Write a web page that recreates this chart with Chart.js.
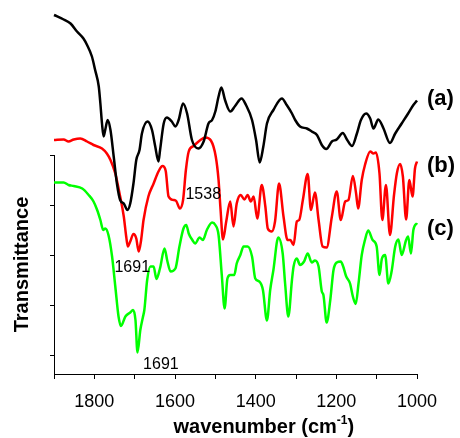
<!DOCTYPE html>
<html>
<head>
<meta charset="utf-8">
<script src="https://cdn.jsdelivr.net/npm/chart.js@4/dist/chart.umd.min.js"></script>
<style>
  html, body { margin: 0; padding: 0; background: #fff; }
  #wrap { width: 460px; height: 438px; }
</style>
</head>
<body>
<div id="wrap"><canvas id="c" width="460" height="438"></canvas></div>
<script>
// ---- data (wavenumber in cm-1, transmittance in arbitrary offset units) ----
const blackWn = [1900,1876,1859,1843,1827,1818,1806,1798,1789,1785,1781,1777,1773,1767,1760,1752,1744,1736,1727,1718,1711,1703,1696,1688,1682,1668,1657,1649,1641,1637,1628,1620,1608,1599,1591,1580,1570,1558,1542,1529,1517,1508,1500,1492,1485,1476,1463,1451,1435,1424,1409,1399,1390,1381,1372,1356,1335,1323,1310,1302,1290,1273,1261,1248,1236,1225,1211,1199,1184,1173,1161,1149,1139,1126,1116,1108,1096,1083,1067,1054,1038,1022,1009,1000];
const blackT = [6.80,6.71,6.63,6.47,6.33,6.20,5.97,5.70,5.37,5.03,4.63,4.37,4.50,4.70,4.50,3.97,3.43,3.10,3.03,2.90,3.03,3.43,3.90,4.10,4.43,4.67,4.50,4.17,3.87,4.10,4.63,4.75,4.67,4.57,4.70,5.03,4.83,4.30,4.13,4.27,4.63,4.70,4.87,5.17,5.35,5.10,4.87,4.98,5.13,5.00,4.70,4.30,3.85,4.17,4.63,4.90,5.13,5.00,4.83,4.70,4.57,4.53,4.47,4.40,4.20,4.12,4.27,4.31,4.44,4.30,4.18,4.43,4.70,4.83,4.73,4.53,4.71,4.53,4.24,4.43,4.63,4.83,5.00,5.09];

const redWn = [1900,1876,1864,1851,1835,1818,1802,1781,1769,1760,1748,1736,1727,1721,1717,1711,1703,1696,1690,1684,1678,1666,1653,1641,1631,1623,1616,1604,1597,1588,1580,1573,1566,1554,1537,1525,1511,1499,1492,1487,1481,1473,1463,1455,1447,1437,1428,1420,1412,1405,1396,1385,1376,1370,1360,1352,1342,1331,1321,1314,1306,1298,1292,1283,1271,1263,1253,1244,1234,1224,1211,1199,1189,1178,1170,1159,1151,1146,1137,1129,1116,1108,1102,1093,1086,1077,1067,1057,1050,1042,1035,1027,1019,1011,1005,1000];
const redT = [4.30,4.31,4.27,4.31,4.33,4.27,4.20,4.13,4.03,3.90,3.63,3.17,2.77,2.37,2.17,2.27,2.42,2.33,2.07,2.30,2.70,3.17,3.43,3.67,3.78,3.68,3.17,3.10,3.08,2.93,3.10,3.70,4.07,4.18,4.30,4.35,4.29,3.97,3.50,2.90,2.31,2.67,3.07,2.57,3.03,3.20,3.11,3.20,3.07,3.17,2.73,3.40,2.97,2.53,2.47,2.67,3.43,2.77,2.30,2.30,2.20,2.67,2.70,3.10,3.62,2.90,3.25,2.70,2.17,2.15,2.77,3.27,2.70,3.07,3.10,3.58,3.23,2.93,3.50,3.80,4.07,4.03,4.05,3.63,2.70,3.40,2.40,3.20,3.63,3.82,3.57,2.71,3.50,3.17,3.73,3.87];

const greenWn = [1900,1876,1864,1851,1830,1814,1802,1793,1785,1778,1773,1765,1756,1748,1740,1734,1723,1711,1704,1698,1693,1686,1680,1676,1669,1661,1653,1646,1637,1626,1619,1611,1599,1589,1579,1572,1566,1557,1550,1539,1531,1521,1508,1500,1492,1484,1477,1470,1463,1453,1447,1438,1430,1420,1409,1401,1391,1382,1372,1364,1356,1344,1333,1327,1319,1310,1306,1298,1290,1280,1271,1261,1253,1244,1236,1232,1224,1215,1207,1199,1189,1183,1176,1166,1159,1152,1145,1137,1129,1121,1110,1100,1093,1087,1079,1071,1063,1054,1046,1038,1027,1022,1015,1009,1000];
const greenT = [3.45,3.45,3.40,3.38,3.33,3.20,3.07,2.90,2.70,2.50,2.53,2.40,1.97,1.37,0.77,0.58,0.77,0.85,0.90,0.70,0.05,0.50,0.74,0.90,1.50,1.77,1.77,1.52,1.74,2.13,1.88,1.67,1.73,2.17,2.53,2.60,2.43,2.30,2.23,2.35,2.30,2.50,2.65,2.60,2.40,1.60,0.93,1.53,1.60,1.60,1.83,2.00,2.17,2.17,1.97,1.53,1.47,1.30,0.69,1.30,1.70,2.35,2.03,1.43,0.77,1.50,1.77,1.93,1.80,1.87,2.03,1.85,1.89,1.77,1.27,1.20,0.65,1.10,1.70,1.85,1.87,1.77,1.58,1.43,1.17,1.02,1.43,2.00,2.30,2.49,2.30,2.17,1.60,1.93,2.00,1.43,1.67,2.17,2.31,2.00,2.30,2.37,2.03,2.50,2.64];

const seriesLabels = ['(a)', '(b)', '(c)'];
const seriesLabelLevel = [5.12, 3.78, 2.52];
const seriesColors = ['#000000', '#ff0000', '#00ff00'];

const annotationText = ['1538', '1691', '1691'];
const annotationWn = [1530, 1706, 1635];
const annotationT = [3.20, 1.74, -0.19];

const xTickValues = [1900,1800,1700,1600,1500,1400,1300,1200,1100,1000];
const xLabelValues = [1800,1600,1400,1200,1000];
const yTickValues = [0,1,2,3,4];

const FONT = '"Liberation Sans", Arial, Helvetica, sans-serif';

function pts(wn, t) {
  const n = Math.min(wn.length, t.length);
  const out = [];
  for (let i = 0; i < n; i++) out.push({x: wn[i], y: t[i]});
  return out;
}

const textPlugin = {
  id: 'texts',
  afterDatasetsDraw(chart) {
    const {ctx, chartArea: ca, scales: {x, y}} = chart;
    ctx.save();
    ctx.fillStyle = '#000';
    // peak annotations
    ctx.font = '16px ' + FONT;
    ctx.textAlign = 'center';
    ctx.textBaseline = 'middle';
    for (let i = 0; i < annotationText.length; i++) {
      ctx.fillText(annotationText[i], x.getPixelForValue(annotationWn[i]), y.getPixelForValue(annotationT[i]));
    }
    // series labels
    ctx.font = 'bold 22px ' + FONT;
    ctx.textAlign = 'left';
    for (let i = 0; i < seriesLabels.length; i++) {
      ctx.fillText(seriesLabels[i], ca.right + 10, y.getPixelForValue(seriesLabelLevel[i]));
    }
    // y title
    ctx.save();
    ctx.translate(ca.left - 32, (ca.top + ca.bottom) / 2);
    ctx.rotate(-Math.PI / 2);
    ctx.font = 'bold 20px ' + FONT;
    ctx.textAlign = 'center';
    ctx.textBaseline = 'middle';
    ctx.fillText('Transmittance', 0, 0);
    ctx.restore();
    // x title with superscript
    const main = 'wavenumber (cm', sup = '-1', close = ')';
    ctx.textAlign = 'left';
    ctx.textBaseline = 'alphabetic';
    ctx.font = 'bold 20px ' + FONT;
    const w1 = ctx.measureText(main).width;
    const w3 = ctx.measureText(close).width;
    ctx.font = 'bold 12px ' + FONT;
    const w2 = ctx.measureText(sup).width;
    const cx = ca.left + (ca.right - ca.left) * 0.578;
    const by = ca.bottom + 59;
    let sx = cx - (w1 + w2 + w3) / 2;
    ctx.font = 'bold 20px ' + FONT;
    ctx.fillText(main, sx, by);
    sx += w1;
    ctx.font = 'bold 12px ' + FONT;
    ctx.fillText(sup, sx, by - 9);
    sx += w2;
    ctx.font = 'bold 20px ' + FONT;
    ctx.fillText(close, sx, by);
    ctx.restore();
  }
};

const mk = (data, color) => ({
  data, borderColor: color, backgroundColor: color, borderWidth: 2.5,
  pointRadius: 0, fill: false, clip: false, cubicInterpolationMode: 'monotone'
});

new Chart(document.getElementById('c'), {
  type: 'line',
  data: {
    datasets: [
      mk(pts(blackWn, blackT), seriesColors[0]),
      mk(pts(redWn, redT), seriesColors[1]),
      mk(pts(greenWn, greenT), seriesColors[2])
    ]
  },
  options: {
    responsive: false,
    devicePixelRatio: 1,
    animation: false,
    parsing: false,
    layout: { padding: { top: 155, left: 50, right: 43, bottom: 0 } },
    plugins: { legend: { display: false }, tooltip: { enabled: false } },
    scales: {
      x: {
        type: 'linear', reverse: true, min: 1000, max: 1900,
        afterBuildTicks: s => { s.ticks = xTickValues.map(v => ({value: v})); },
        afterFit: s => { s.height = 64; },
        ticks: {
          autoSkip: false, maxRotation: 0, color: '#000', padding: 12,
          font: { size: 18, family: FONT },
          callback: v => xLabelValues.includes(v) ? String(v) : ''
        },
        grid: { drawOnChartArea: false, drawTicks: true, tickLength: 5, color: '#000', lineWidth: 1 },
        border: { display: true, color: '#000', width: 1 }
      },
      y: {
        type: 'linear', min: -0.38, max: 4,
        afterBuildTicks: s => { s.ticks = yTickValues.map(v => ({value: v})); },
        ticks: { display: false },
        grid: { drawOnChartArea: false, drawTicks: true, tickLength: 4, color: '#000', lineWidth: 1 },
        border: { display: true, color: '#000', width: 1 }
      }
    }
  },
  plugins: [textPlugin]
});
</script>
</body>
</html>
